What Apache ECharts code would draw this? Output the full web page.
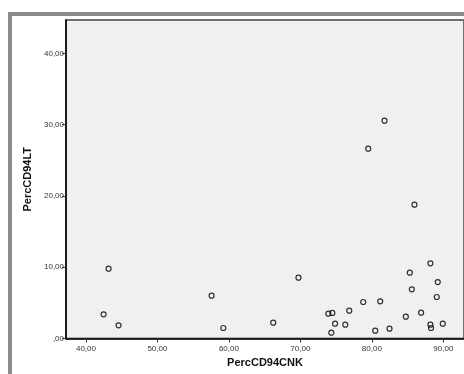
<!DOCTYPE html>
<html>
<head>
<meta charset="utf-8">
<script src="https://cdn.jsdelivr.net/npm/echarts@6/dist/echarts.min.js"></script>
<style>html,body{margin:0;padding:0;background:#fff}#c{width:464px;height:374px}</style>
</head>
<body>
<div id="c"></div>
<script>
var xTicks = [40, 50, 60, 70, 80, 90];
var yTicks = [0, 10, 20, 30, 40];
var percCD94CNK = [43.17, 42.47, 44.56, 57.58, 59.22, 66.2, 69.73, 73.91, 74.47, 74.85, 74.33, 76.28, 76.84, 78.79, 81.17, 80.47, 82.47, 84.75, 85.31, 85.59, 86.89, 88.19, 89.22, 89.08, 88.19, 88.28, 89.92, 81.77, 79.49, 85.96];
var percCD94LT = [9.79, 3.39, 1.85, 6.0, 1.47, 2.22, 8.53, 3.48, 3.58, 2.08, 0.82, 1.94, 3.90, 5.12, 5.21, 1.10, 1.38, 3.06, 9.23, 6.90, 3.62, 10.55, 7.92, 5.82, 1.94, 1.47, 2.08, 30.55, 26.62, 18.77];

var points = percCD94CNK.map(function (x, i) { return [x, percCD94LT[i]]; });
function fmt(v) { return v === 0 ? ',00' : v.toFixed(2).replace('.', ','); }

var chart = echarts.init(document.getElementById('c'), null, {renderer: 'canvas'});
chart.setOption({
  backgroundColor: '#ffffff',
  animation: false,
  graphic: [{
    type: 'rect', shape: {x: 10, y: 14, width: 480, height: 420},
    style: {fill: 'none', stroke: '#8a8a8a', lineWidth: 4}, z: 100
  }],
  grid: {left: 66, top: 20, width: 399, height: 318.5, show: true,
    backgroundColor: '#f0f0f0', borderColor: '#707070', borderWidth: 2},
  xAxis: {
    type: 'value', min: 37.21, max: 92.89,
    name: 'PercCD94CNK', nameLocation: 'middle', nameGap: 18,
    nameTextStyle: {fontFamily: 'Liberation Sans', fontSize: 11, fontWeight: 'bold', color: '#111'},
    axisLine: {show: true, lineStyle: {color: '#000', width: 1.5}},
    axisTick: {show: true, length: 4, customValues: xTicks, lineStyle: {color: '#333'}},
    axisLabel: {customValues: xTicks, formatter: fmt, margin: 6, fontFamily: 'Liberation Sans', fontSize: 8, color: '#333'},
    splitLine: {show: false}
  },
  yAxis: {
    type: 'value', min: 0, max: 44.67,
    name: 'PercCD94LT', nameLocation: 'middle', nameGap: 32,
    nameTextStyle: {fontFamily: 'Liberation Sans', fontSize: 11, fontWeight: 'bold', color: '#111'},
    axisLine: {show: true, lineStyle: {color: '#000', width: 1.5}},
    axisTick: {show: true, length: 4, customValues: yTicks, lineStyle: {color: '#333'}},
    axisLabel: {customValues: yTicks, formatter: fmt, margin: 2, fontFamily: 'Liberation Sans', fontSize: 8, color: '#333'},
    splitLine: {show: false}
  },
  series: [{
    type: 'scatter', data: points, symbol: 'circle', symbolSize: 5,
    itemStyle: {color: 'rgba(0,0,0,0)', borderColor: '#000', borderWidth: 1.2}
  }]
});
</script>
</body>
</html>
